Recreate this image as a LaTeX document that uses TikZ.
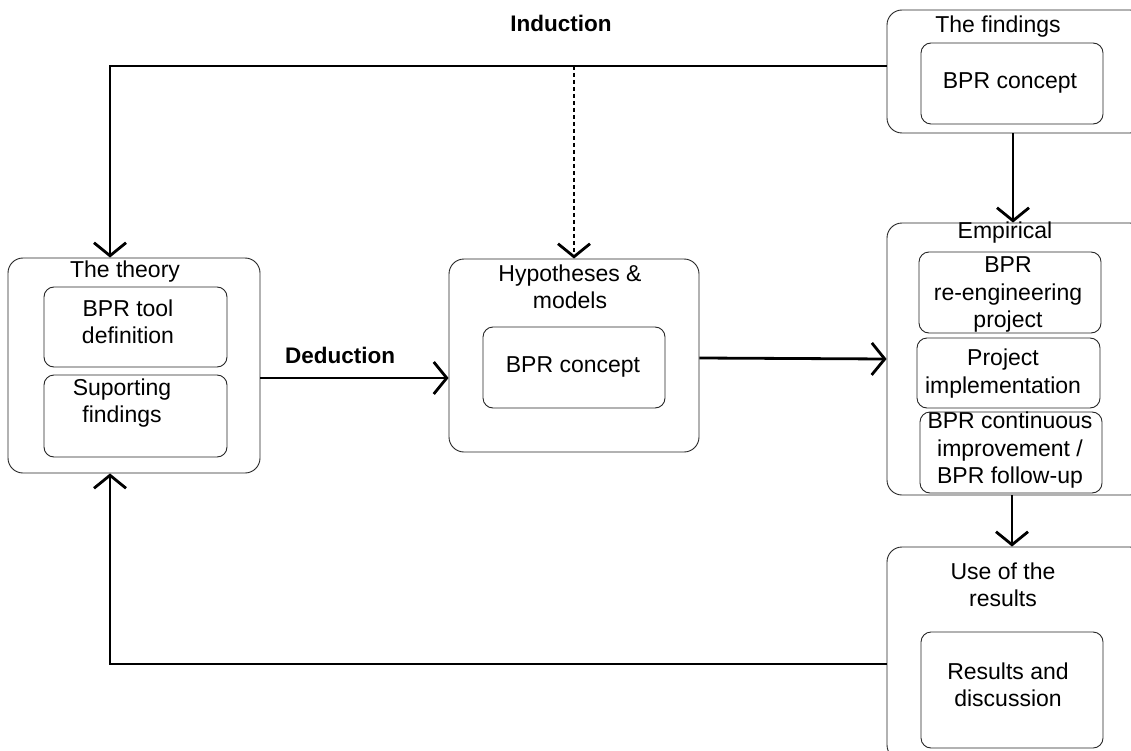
\documentclass[tikz,border=0pt]{standalone}
\usepackage{fontspec}
\setmainfont{Liberation Sans}
\usetikzlibrary{arrows.meta}
\begin{document}
\begin{tikzpicture}[x=1pt,y=-1pt,
  outerbox/.style={draw=black!85, line width=0.9pt, rounded corners=15pt, inner sep=0pt},
  innerbox/.style={draw=black!85, line width=0.9pt, rounded corners=10pt, inner sep=0pt},
  txt/.style={align=center, inner sep=0pt, font=\fontsize{23}{27.5}\selectfont},
  btxt/.style={inner sep=0pt, font=\fontsize{22.5}{27}\selectfont\bfseries},
  conn/.style={line width=2.8pt, -{Straight Barb[length=13pt,width=32pt]}},
  dotconn/.style={line width=2.8pt, dash pattern=on 4pt off 3pt, -{Straight Barb[length=13pt,width=32pt]}}]
\useasboundingbox (0,0) rectangle (1131,751);
\clip (0,0) rectangle (1131,751);
\fill[white] (0,0) rectangle (1131,751);

% outer boxes
\node[outerbox, minimum width=252pt, minimum height=215pt] (theory) at (134,365.5) {};
\node[outerbox, minimum width=250pt, minimum height=193pt] (hyp) at (574,355.5) {};
\node[outerbox, minimum width=258pt, minimum height=123pt] (findings) at (1016,71.5) {};
\node[outerbox, minimum width=258pt, minimum height=272pt] (emp) at (1016,359) {};
\node[outerbox, minimum width=258pt, minimum height=213pt] (use) at (1016,653.5) {};

% inner boxes
\node[innerbox, minimum width=183pt, minimum height=80pt] (t1) at (135.5,327) {};
\node[innerbox, minimum width=183pt, minimum height=82pt] (t2) at (135.5,416) {};
\node[innerbox, minimum width=182pt, minimum height=81pt] (h1) at (574,367.5) {};
\node[innerbox, minimum width=182pt, minimum height=81pt] (f1) at (1012,83.5) {};
\node[innerbox, minimum width=182pt, minimum height=81pt] (e1) at (1010,292.5) {};
\node[innerbox, minimum width=183pt, minimum height=70pt] (e2) at (1008.5,373) {};
\node[innerbox, minimum width=182pt, minimum height=81pt] (e3) at (1011,452.5) {};
\node[innerbox, minimum width=182pt, minimum height=116pt] (u1) at (1012,690) {};

% titles and texts
\node[txt] (theoryT) at (125,272) {The theory};
\node[txt] (hypT) at (570,287) {Hypotheses \&\\models};
\node[txt] (findT) at (998,27) {The findings};
\node[txt] (empT) at (1005,233) {Empirical};
\node[txt] (useT) at (1003,585) {Use of the\\results};

\node[txt] (t1T) at (128,322) {BPR tool\\definition};
\node[txt] (t2T) at (122,403) {Suporting\\findings};
\node[txt] (h1T) at (573,367) {BPR concept};
\node[txt] (f1T) at (1010,83) {BPR concept};
\node[txt] (e1T) at (1008,294.5) {BPR\\re-engineering\\project};
\node[txt] (e2T) at (1003,373.5) {Project\\implementation};
\node[txt] (e3T) at (1010,450.5) {BPR continuous\\improvement /\\BPR follow-up};
\node[txt] (u1T) at (1008,685) {Results and\\discussion};

\node[btxt] (ind) at (561,23) {Induction};
\node[btxt] (ded) at (340,355) {Deduction};

% connectors
\coordinate (tl) at (110,66);
\coordinate (dt) at (574,66);
\coordinate (bl) at (110,664);
\draw[conn] (findings.west |- tl) -- (tl) -- (tl |- theory.north);
\draw[dotconn] (dt) -- (hyp.north);
\draw[conn] (theory.east |- 0,378) -- (hyp.west |- 0,378);
\draw[conn] (hyp.east |- 0,358) -- (emp.west |- 0,359);
\draw[conn] (findings.south -| 1013,0) -- (emp.north -| 1013,0);
\draw[conn] (emp.south -| 1012,0) -- (use.north -| 1012,0);
\draw[conn] (use.west |- bl) -- (bl) -- (bl |- theory.south);
\end{tikzpicture}
\end{document}
